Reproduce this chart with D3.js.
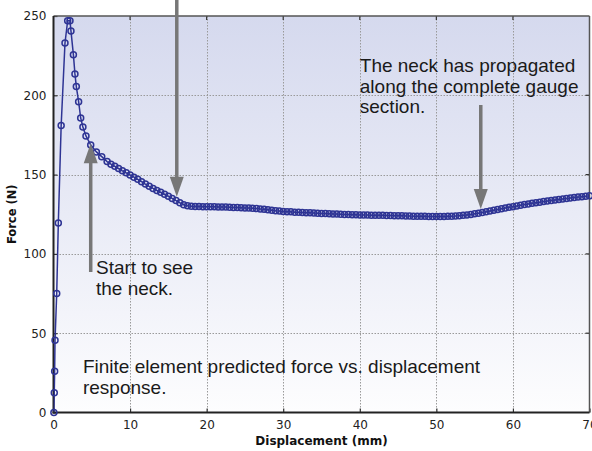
<!DOCTYPE html>
<html><head><meta charset="utf-8">
<script src="https://cdn.jsdelivr.net/npm/d3@7"></script>
<style>body{margin:0;background:#fff;}svg{display:block;}</style>
</head><body>
<svg id="c" width="592" height="451"></svg>
<script>
// Displacement (mm) and force (N)
const displacement = [0.05,0.1,0.15,0.2,0.42,0.63,1.0,1.5,1.85,2.15,2.28,2.6,2.8,2.98,3.28,3.55,3.84,4.24,4.86,5.6,6.3,7.0,7.5,
8.0,8.5,9.0,9.5,10.0,10.5,11.0,11.5,12.0,12.5,13.0,13.5,14.0,14.5,15.0,15.5,16.0,16.5,17.0,17.5,18.0,18.5,19.0,19.5,
20.0,20.5,21.0,21.5,22.0,22.5,23.0,23.5,24.0,24.5,25.0,25.5,26.0,26.5,27.0,27.5,28.0,28.5,29.0,29.5,
30.0,30.5,31.0,31.5,32.0,32.5,33.0,33.5,34.0,34.5,35.0,35.5,36.0,36.5,37.0,37.5,38.0,38.5,39.0,39.5,
40.0,40.5,41.0,41.5,42.0,42.5,43.0,43.5,44.0,44.5,45.0,45.5,46.0,46.5,47.0,47.5,48.0,48.5,49.0,49.5,
50.0,50.5,51.0,51.5,52.0,52.5,53.0,53.5,54.0,54.5,55.0,55.5,56.0,56.5,57.0,57.5,58.0,58.5,59.0,59.5,
60.0,60.5,61.0,61.5,62.0,62.5,63.0,63.5,64.0,64.5,65.0,65.5,66.0,66.5,67.0,67.5,68.0,68.5,69.0,69.5,70.0];
const force = [0,12.5,26,45.6,75,119.5,181,233,247,247,240.6,225.5,213.5,205.5,196,185.7,180,174.4,168.7,164.3,161.3,158.2,156.6,
155.2,153.8,152.4,151.1,149.8,148.4,147.0,145.5,144.0,142.6,141.3,140.0,138.8,137.6,136.4,135.0,133.6,132.2,131.0,130.3,130.0,129.9,129.9,129.8,
129.8,129.7,129.7,129.6,129.6,129.5,129.4,129.3,129.2,129.1,129.0,128.9,128.8,128.6,128.3,128.1,127.8,127.5,127.2,127.0,
126.8,126.6,126.5,126.3,126.2,126.1,126.0,125.9,125.8,125.7,125.5,125.4,125.3,125.2,125.1,125.0,124.9,124.8,124.7,124.7,
124.6,124.5,124.5,124.4,124.4,124.3,124.3,124.2,124.2,124.1,124.0,124.0,123.9,123.9,123.8,123.8,123.7,123.7,123.6,123.6,
123.6,123.6,123.6,123.7,123.8,123.9,124.1,124.3,124.6,124.9,125.3,125.7,126.1,126.6,127.0,127.5,128.0,128.5,129.0,129.4,
129.8,130.2,130.7,131.1,131.5,131.9,132.3,132.6,133.0,133.3,133.7,134.0,134.3,134.6,134.9,135.2,135.5,135.8,136.1,136.3,136.6];
const xTicks = [0,10,20,30,40,50,60,70];
const yTicks = [0,50,100,150,200,250];
const xLabel = "Displacement (mm)";
const yLabel = "Force (N)";
const notePropagated = ["The neck has propagated","along the complete gauge","section."];
const noteStart = ["Start to see","the neck."];
const noteResponse = ["Finite element predicted force vs. displacement","response."];

const svg = d3.select("#c");
const L=53.5, R=589.5, T=16, B=412.5;
const x = d3.scaleLinear().domain([0,70]).range([L,R]);
const y = d3.scaleLinear().domain([0,250]).range([B,T]);

const defs = svg.append("defs");
const g1 = defs.append("linearGradient").attr("id","bg").attr("x1",0).attr("y1",0).attr("x2",0).attr("y2",1);
g1.append("stop").attr("offset","0%").attr("stop-color","#d5d9ee");
g1.append("stop").attr("offset","100%").attr("stop-color","#fdfdfe");
defs.append("clipPath").attr("id","clip").append("rect").attr("x",L).attr("y",T).attr("width",R-L).attr("height",B-T);

svg.append("rect").attr("x",L).attr("y",T).attr("width",R-L).attr("height",B-T).attr("fill","url(#bg)");

// grid
const grid = svg.append("g").attr("stroke","#9a9a9a").attr("stroke-width",1).attr("stroke-dasharray","1.5,1.5");
grid.selectAll(".gx").data(xTicks.filter(d=>d>0&&d<70)).join("line")
  .attr("x1",d=>Math.round(x(d))+0.5).attr("x2",d=>Math.round(x(d))+0.5).attr("y1",T).attr("y2",B);
grid.selectAll(".gy").data(yTicks.filter(d=>d>0&&d<250)).join("line")
  .attr("y1",d=>Math.round(y(d))+0.5).attr("y2",d=>Math.round(y(d))+0.5).attr("x1",L).attr("x2",R);

// axes
const fontTick = "'DejaVu Sans', Verdana, sans-serif";
const xAxis = svg.append("g").attr("transform",`translate(0,${B})`)
  .call(d3.axisBottom(x).tickValues(xTicks).tickSizeInner(-4).tickSizeOuter(0).tickPadding(8));
const yAxis = svg.append("g").attr("transform",`translate(${L},0)`)
  .call(d3.axisLeft(y).tickValues(yTicks).tickSizeInner(-4).tickSizeOuter(0).tickPadding(7));
[xAxis,yAxis].forEach(a=>{
  a.select(".domain").remove();
  a.selectAll(".tick line").attr("stroke","#333").attr("stroke-width",1.2);
  a.selectAll(".tick text").attr("fill","#222").style("font-family",fontTick).style("font-size","12px");
});
// right-side and top inner ticks
svg.append("g").selectAll("line").data(yTicks.filter(d=>d>0&&d<250)).join("line")
  .attr("x1",R).attr("x2",R-4).attr("y1",d=>y(d)).attr("y2",d=>y(d)).attr("stroke","#333").attr("stroke-width",1.2);
svg.append("g").selectAll("line").data(xTicks.filter(d=>d>0&&d<70)).join("line")
  .attr("y1",T).attr("y2",T+4).attr("x1",d=>x(d)).attr("x2",d=>x(d)).attr("stroke","#333").attr("stroke-width",1.2);

// frame
svg.append("line").attr("x1",L).attr("x2",R).attr("y1",T).attr("y2",T).attr("stroke","#555").attr("stroke-width",1.5);
svg.append("line").attr("x1",R).attr("x2",R).attr("y1",T).attr("y2",B).attr("stroke","#555").attr("stroke-width",1.5);
svg.append("line").attr("x1",L).attr("x2",L).attr("y1",T).attr("y2",B+1).attr("stroke","#222").attr("stroke-width",2);
svg.append("line").attr("x1",L-1).attr("x2",R).attr("y1",B).attr("y2",B).attr("stroke","#222").attr("stroke-width",2);

// axis labels
svg.append("text").attr("x",(L+R)/2).attr("y",445).attr("text-anchor","middle")
  .style("font-family",fontTick).style("font-weight","bold").style("font-size","12px").attr("fill","#111").text(xLabel);
svg.append("text").attr("transform",`translate(16,${(T+B)/2}) rotate(-90)`).attr("text-anchor","middle")
  .style("font-family",fontTick).style("font-weight","bold").style("font-size","11.5px").attr("fill","#111").text(yLabel);

// data
const pts = displacement.map((d,i)=>[d,force[i]]);
const blue = "#2e3494";
const plot = svg.append("g").attr("clip-path","url(#clip)");
plot.append("path").datum(pts).attr("fill","none").attr("stroke",blue).attr("stroke-width",1.5)
  .attr("d",d3.line().x(d=>x(d[0])).y(d=>y(d[1])));
svg.append("g").selectAll("circle").data(pts).join("circle")
  .attr("cx",d=>x(d[0])).attr("cy",d=>y(d[1])).attr("r",3)
  .attr("fill","none").attr("stroke",blue).attr("stroke-width",1.5);

// arrows
const gray = "#777";
function arrow(xd, fromF, toF, fromPx){
  const xp = x(xd);
  const y0 = fromPx!==undefined ? fromPx : y(fromF);
  const y1 = y(toF);
  const dir = y1>y0 ? 1 : -1;
  const headLen = 20, hw = 7;
  svg.append("line").attr("x1",xp).attr("x2",xp).attr("y1",y0).attr("y2",y1-dir*headLen+dir*1)
    .attr("stroke",gray).attr("stroke-width",3.5);
  svg.append("path").attr("d",`M${xp-hw},${y1-dir*headLen} L${xp+hw},${y1-dir*headLen} L${xp},${y1} Z`).attr("fill",gray);
}
arrow(16.1, null, 136, 0);
arrow(4.86, 88.6, 169.7);
arrow(55.8, 193.9, 128.3);

// notes
const noteFont = "'Liberation Sans', Arial, sans-serif";
function note(lines, xd, fBase, lh){
  const t = svg.append("text").style("font-family",noteFont).style("font-size","19px").attr("fill","#1a1a1a");
  lines.forEach((s,i)=>t.append("tspan").attr("x",x(xd)).attr("y",y(fBase)+i*lh).text(s));
}
note(notePropagated, 40.0, 214.5, 20.5);
note(noteStart, 5.55, 87.6, 21.5);
note(noteResponse, 3.85, 24.6, 21);
</script>
</body></html>
